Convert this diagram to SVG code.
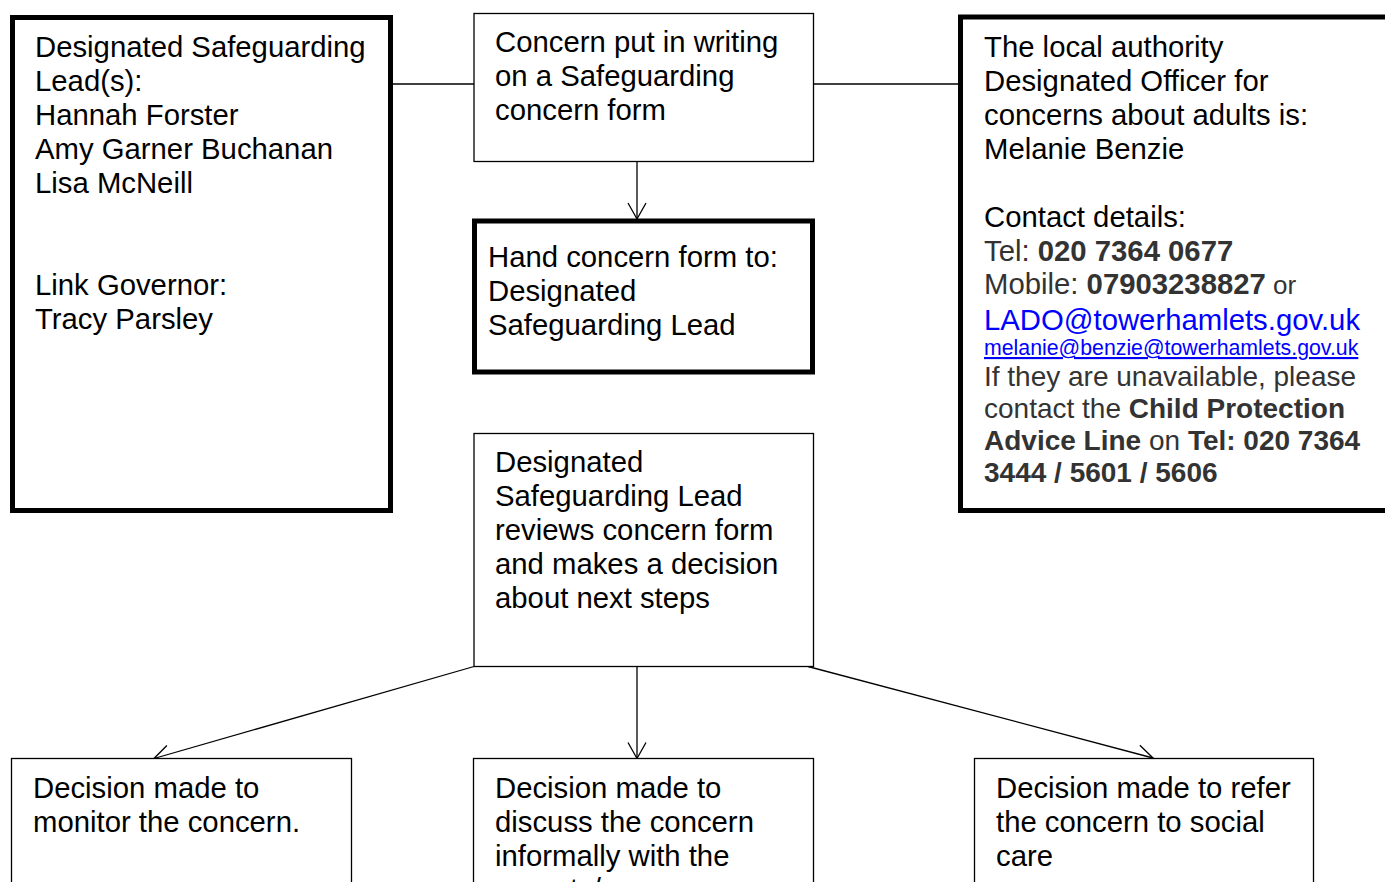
<svg xmlns="http://www.w3.org/2000/svg" width="1385" height="882" viewBox="0 0 1385 882">
<style>
text{font-family:"Liberation Sans",Arial,sans-serif;font-size:29.3px;fill:#000}
.thin{fill:#fff;stroke:#000;stroke-width:1.3}
.thick{fill:#fff;stroke:#000;stroke-width:5}
.conn{stroke:#000;stroke-width:1.3;fill:none}
.g{fill:#333}
.b{font-weight:bold}
.s28{font-size:28px}
</style>
<defs>
<marker id="arr" markerUnits="userSpaceOnUse" markerWidth="30" markerHeight="30" refX="0" refY="0" viewBox="-20 -15 25 30" orient="auto" overflow="visible">
<path d="M-16,-9 L0,0 L-16,9" fill="none" stroke="#000" stroke-width="1.3"/>
</marker>
</defs>
<g id="connectors">
<line class="conn" x1="393" y1="84" x2="474" y2="84"/>
<line class="conn" x1="813" y1="84" x2="958" y2="84"/>
<line class="conn" x1="637" y1="161.5" x2="637" y2="219" marker-end="url(#arr)"/>
<line class="conn" x1="474" y1="666.5" x2="154" y2="758.5" marker-end="url(#arr)"/>
<line class="conn" x1="637" y1="666.5" x2="637" y2="758.5" marker-end="url(#arr)"/>
<line class="conn" x1="808" y1="666.5" x2="1153" y2="758" marker-end="url(#arr)"/>
</g>
<g id="dsl-list">
<rect class="thick" x="12.5" y="17.5" width="378" height="493"/>
<text x="35" y="57">Designated Safeguarding</text>
<text x="35" y="91">Lead(s):</text>
<text x="35" y="125">Hannah Forster</text>
<text x="35" y="159">Amy Garner Buchanan</text>
<text x="35" y="193">Lisa McNeill</text>
<text x="35" y="295">Link Governor:</text>
<text x="35" y="329">Tracy Parsley</text>
</g>
<g id="concern-writing">
<rect class="thin" x="474" y="13.5" width="339.5" height="148"/>
<text x="495" y="52">Concern put in writing</text>
<text x="495" y="86">on a Safeguarding</text>
<text x="495" y="120">concern form</text>
</g>
<g id="lado">
<rect class="thick" x="960.5" y="17" width="440" height="493.5"/>
<text x="984" y="57">The local authority</text>
<text x="984" y="91">Designated Officer for</text>
<text x="984" y="125">concerns about adults is:</text>
<text x="984" y="159">Melanie Benzie</text>
<text x="984" y="227">Contact details:</text>
<text x="984" y="261" class="g">Tel: <tspan class="b">020 7364 0677</tspan></text>
<text x="984" y="294" class="g">Mobile: <tspan class="b">07903238827</tspan><tspan font-size="26"> or</tspan></text>
<text x="984" y="330" fill="#0000ff" style="fill:#0000ff">LADO@towerhamlets.gov.uk</text>
<text x="984" y="355" style="fill:#0000ff;font-size:21.3px" text-decoration="underline">melanie@benzie@towerhamlets.gov.uk</text>
<text x="984" y="386" class="g s28">If they are unavailable, please</text>
<text x="984" y="418" class="g s28">contact the <tspan class="b">Child Protection</tspan></text>
<text x="984" y="450" class="g s28"><tspan class="b">Advice Line</tspan> on <tspan class="b">Tel: 020 7364</tspan></text>
<text x="984" y="482" class="g s28 b">3444 / 5601 / 5606</text>
</g>
<g id="hand-form">
<rect class="thick" x="474.5" y="221" width="338" height="151"/>
<text x="488" y="267">Hand concern form to:</text>
<text x="488" y="301">Designated</text>
<text x="488" y="335">Safeguarding Lead</text>
</g>
<g id="review">
<rect class="thin" x="474" y="433.5" width="339.5" height="233"/>
<text x="495" y="472">Designated</text>
<text x="495" y="506">Safeguarding Lead</text>
<text x="495" y="540">reviews concern form</text>
<text x="495" y="574">and makes a decision</text>
<text x="495" y="608">about next steps</text>
</g>
<g id="monitor">
<rect class="thin" x="11.5" y="758.5" width="340" height="140"/>
<text x="33" y="798">Decision made to</text>
<text x="33" y="832">monitor the concern.</text>
</g>
<g id="discuss">
<rect class="thin" x="473.5" y="758.5" width="340" height="140"/>
<text x="495" y="798">Decision made to</text>
<text x="495" y="832">discuss the concern</text>
<text x="495" y="866">informally with the</text>
<text x="495" y="899">parents/carers</text>
</g>
<g id="refer">
<rect class="thin" x="974.5" y="758.5" width="339" height="140"/>
<text x="996" y="798">Decision made to refer</text>
<text x="996" y="832">the concern to social</text>
<text x="996" y="866">care</text>
</g>
</svg>
